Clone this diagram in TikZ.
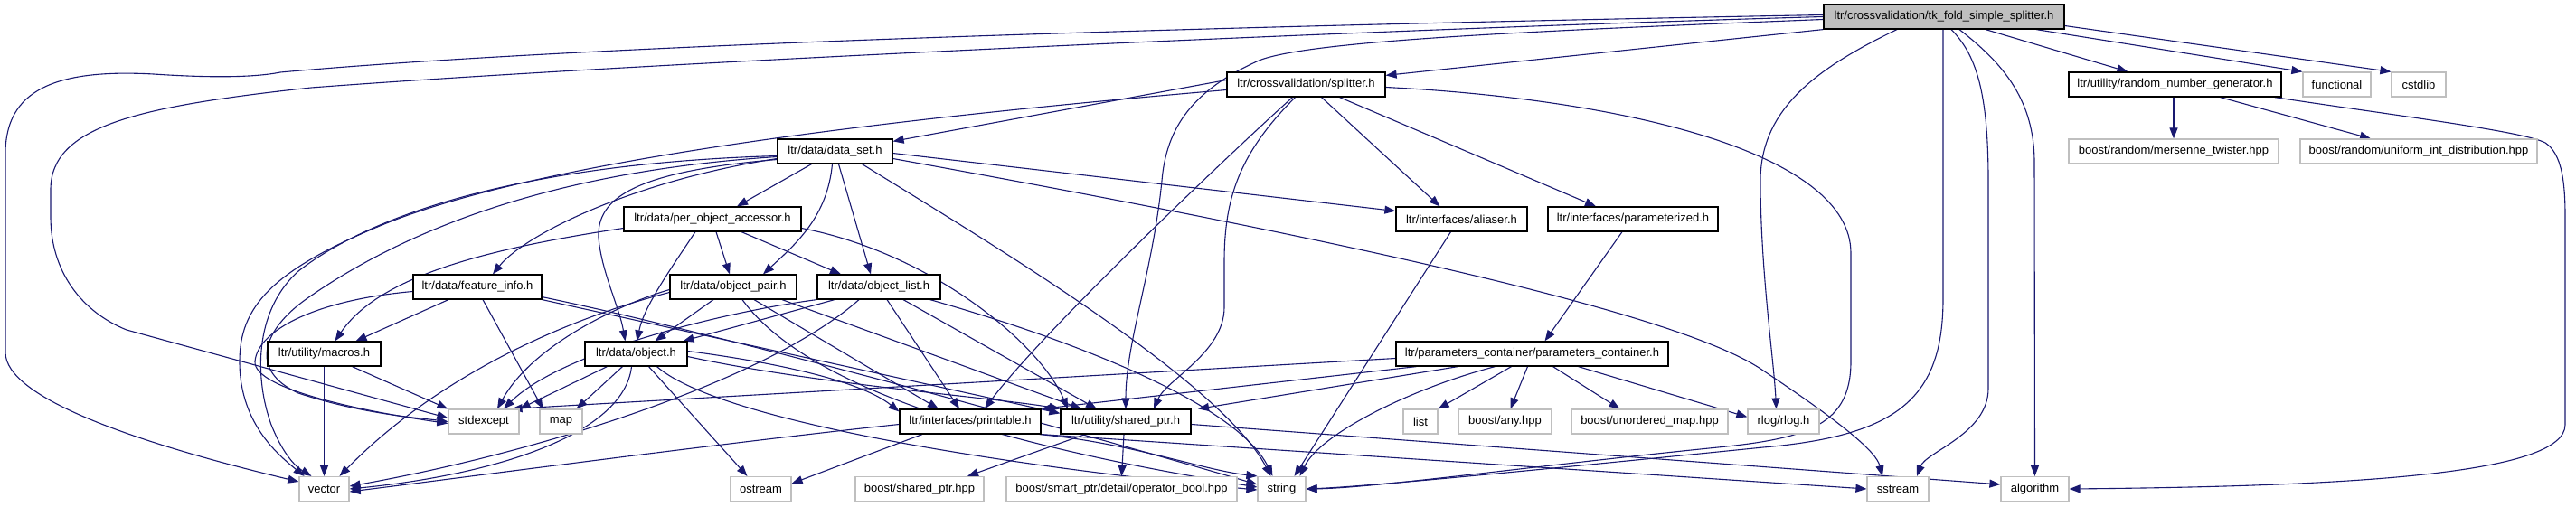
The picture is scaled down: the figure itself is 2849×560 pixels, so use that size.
\documentclass[tikz,border=0pt]{standalone}
\usepackage{fontspec}
\setmainfont{Liberation Sans}
\usetikzlibrary{arrows.meta}
\pgfdeclarelayer{background}
\pgfsetlayers{background,main}
\definecolor{edgeblue}{HTML}{191970}
\definecolor{extgray}{HTML}{BFBFBF}
\definecolor{rootgray}{HTML}{BFBFBF}

\begin{document}
\begin{tikzpicture}[x=1pt,y=-1pt,
    every node/.style={font=\fontsize{13}{15}\selectfont,inner sep=0pt,minimum height=27pt},
    hdr/.style={draw=black,line width=1.2pt,fill=white},
    ext/.style={draw=extgray,line width=1.2pt,fill=white},
    mainbox/.style={draw=black,line width=1.2pt,fill=rootgray},
    inc/.style={-{Triangle[length=12pt,width=9pt]},draw=edgeblue,line width=1.1pt}
]
\useasboundingbox (0,0) rectangle (2849,560);
\node[mainbox,minimum width=266pt] (root) at (2150,18.5) {ltr/crossvalidation/tk\_fold\_simple\_splitter.h};
\node[hdr,minimum width=235pt] (rng) at (2405.5,93.5) {ltr/utility/random\_number\_generator.h};
\node[ext,minimum width=75pt] (functional) at (2584.5,93.5) {functional};
\node[ext,minimum width=60pt] (cstdlib) at (2675,93.5) {cstdlib};
\node[ext,minimum width=232pt] (mersenne) at (2404,167.5) {boost/random/mersenne\_twister.hpp};
\node[ext,minimum width=262pt] (uniformint) at (2675,167.5) {boost/random/uniform\_int\_distribution.hpp};
\node[hdr,minimum width=175pt] (splitter) at (1444.5,93.5) {ltr/crossvalidation/splitter.h};
\node[hdr,minimum width=127pt] (dataset) at (923.5,167.5) {ltr/data/data\_set.h};
\node[hdr,minimum width=145pt] (aliaser) at (1616.5,242.5) {ltr/interfaces/aliaser.h};
\node[hdr,minimum width=188pt] (parameterized) at (1806,242.5) {ltr/interfaces/parameterized.h};
\node[hdr,minimum width=196pt] (accessor) at (788,242.5) {ltr/data/per\_object\_accessor.h};
\node[hdr,minimum width=142pt] (featureinfo) at (528,317.5) {ltr/data/feature\_info.h};
\node[hdr,minimum width=140pt] (objpair) at (811,317.5) {ltr/data/object\_pair.h};
\node[hdr,minimum width=136pt] (objlist) at (972,317.5) {ltr/data/object\_list.h};
\node[hdr,minimum width=125pt] (macros) at (358.5,391.5) {ltr/utility/macros.h};
\node[hdr,minimum width=113pt] (object) at (703.5,391.5) {ltr/data/object.h};
\node[hdr,minimum width=301pt] (paramscont) at (1694.5,391.5) {ltr/parameters\_container/parameters\_container.h};
\node[ext,minimum width=78pt] (stdexcept) at (535,466.5) {stdexcept};
\node[ext,minimum width=47pt] (map) at (620.5,466.5) {map};
\node[hdr,minimum width=156pt] (printable) at (1073,466.5) {ltr/interfaces/printable.h};
\node[hdr,minimum width=144pt] (sharedptr) at (1245,466.5) {ltr/utility/shared\_ptr.h};
\node[ext,minimum width=38pt] (list) at (1571,466.5) {list};
\node[ext,minimum width=103pt] (anyhpp) at (1664.5,466.5) {boost/any.hpp};
\node[ext,minimum width=173pt] (umap) at (1824.5,466.5) {boost/unordered\_map.hpp};
\node[ext,minimum width=79pt] (rlog) at (1972.5,466.5) {rlog/rlog.h};
\node[ext,minimum width=55pt] (vector) at (358.5,541) {vector};
\node[ext,minimum width=67pt] (ostream) at (841.5,541) {ostream};
\node[ext,minimum width=142pt] (boostsp) at (1017,541) {boost/shared\_ptr.hpp};
\node[ext,minimum width=255pt] (opbool) at (1240.5,541) {boost/smart\_ptr/detail/operator\_bool.hpp};
\node[ext,minimum width=53pt] (string) at (1417.5,541) {string};
\node[ext,minimum width=68pt] (sstream) at (2099,541) {sstream};
\node[ext,minimum width=75pt] (algorithm) at (2250.5,541) {algorithm};

\begin{pgfonlayer}{background}
\draw[inc] ([yshift=2pt]root.west) .. controls (1500,26) and (700,45) .. (310,80) .. controls (280,86) and (230,86) .. (170,82) .. controls (60,76) and (6,100) .. (6,170) -- (6,390) .. controls (6,440) and (150,490) .. ([yshift=8pt]vector.west);
\draw[inc] (root.west) .. controls (1500,33) and (700,70) .. (344,97) .. controls (150,118) and (56,140) .. (56,210) -- (56,240) .. controls (56,300) and (90,345) .. (140,365) -- ([yshift=4pt]stdexcept.west);
\draw[inc] ([yshift=-3pt]root.west) .. controls (1700,34) and (1440,45) .. (1390,68) .. controls (1320,100) and (1290,140) .. (1285,200) .. controls (1275,300) and (1245,380) .. (sharedptr.north);
\draw[inc] (root.south west) -- ([yshift=-4pt]splitter.north east);
\draw[inc] ([xshift=-52pt]root.south) .. controls (2010,75) and (1947,120) .. (1947,200) .. controls (1947,300) and (1962,400) .. ([xshift=-8pt]rlog.north);
\draw[inc] ([xshift=-1pt]root.south) -- (2149,330) .. controls (2149,440) and (2100,482) .. (1950,495) .. controls (1750,515) and (1520,538) .. (string.east);
\draw[inc] ([xshift=8pt]root.south) .. controls (2185,60) and (2199,100) .. (2199,200) -- (2199,430) .. controls (2199,480) and (2130,500) .. ([xshift=21pt]sstream.north);
\draw[inc] ([xshift=17pt]root.south) .. controls (2215,70) and (2250,110) .. (2250,180) -- (algorithm.north);
\draw[inc] ([xshift=46pt]root.south) -- ([xshift=-52pt]rng.north);
\draw[inc] ([xshift=102pt]root.south) -- (functional.north west);
\draw[inc] ([yshift=-10pt]root.east) -- (cstdlib.north west);

\draw[inc] ([xshift=-1.5pt]rng.south) -- (mersenne.north);
\draw[inc] ([xshift=50pt]rng.south) -- ([xshift=-53pt]uniformint.north);
\draw[inc] ([xshift=-8pt]rng.south east) .. controls (2650,128) and (2790,145) .. (2815,158) .. controls (2833,170) and (2837,200) .. (2837,240) -- (2837,470) .. controls (2837,525) and (2600,538) .. (algorithm.east);

\draw[inc] ([yshift=5pt]splitter.west) -- ([yshift=-3pt]dataset.north east);
\draw[inc] ([yshift=-6pt]splitter.west) .. controls (1000,130) and (600,175) .. (420,250) .. controls (300,300) and (265,340) .. (265,400) .. controls (265,470) and (310,505) .. ([xshift=-22pt]vector.north);
\draw[inc] ([xshift=-15pt]splitter.south) .. controls (1360,170) and (1150,370) .. ([xshift=16pt]printable.north);
\draw[inc] ([xshift=-12pt]splitter.south) .. controls (1370,170) and (1354,220) .. (1354,290) -- (1354,340) .. controls (1354,390) and (1290,420) .. ([xshift=31pt]sharedptr.north);
\draw[inc] ([xshift=17pt]splitter.south) -- ([xshift=-24pt]aliaser.north);
\draw[inc] ([xshift=37pt]splitter.south) -- ([xshift=-41pt]parameterized.north);
\draw[inc] ([yshift=-3pt]splitter.east) .. controls (1800,110) and (2047,170) .. (2047,280) -- (2047,400) .. controls (2047,470) and (2000,485) .. (1900,495) .. controls (1700,515) and (1520,540) .. (string.east);

\draw[inc] ([xshift=-26pt]dataset.south) -- ([xshift=27pt]accessor.north);
\draw[inc] ([xshift=-3pt]dataset.south) .. controls (915,240) and (880,270) .. ([xshift=33pt]objpair.north);
\draw[inc] ([xshift=4pt]dataset.south) -- ([xshift=-9pt]objlist.north);
\draw[inc] ([yshift=-2pt]dataset.east) -- ([yshift=9pt]aliaser.west);
\draw[inc] ([yshift=-8pt]dataset.east) .. controls (1400,250) and (1850,340) .. (1950,410) .. controls (2040,470) and (2075,500) .. ([xshift=-17pt]sstream.north);
\draw[inc] ([xshift=30pt]dataset.south) .. controls (1080,260) and (1350,420) .. ([xshift=-12pt]string.north);
\draw[inc] ([yshift=-8pt]dataset.west) .. controls (700,200) and (580,260) .. ([xshift=17pt]featureinfo.north);
\draw[inc] ([yshift=-9pt]dataset.west) .. controls (700,190) and (660,220) .. (662,263) .. controls (665,300) and (685,340) .. ([xshift=-12pt]object.north);
\draw[inc] ([yshift=-5pt]dataset.west) .. controls (600,180) and (420,230) .. (330,300) .. controls (280,345) and (282,420) .. (300,470) .. controls (312,500) and (325,515) .. ([xshift=-14pt]vector.north);
\draw[inc] ([yshift=-6pt]dataset.west) .. controls (600,190) and (440,260) .. (340,330) .. controls (290,365) and (275,410) .. (330,435) .. controls (400,458) and (460,462) .. (stdexcept.west);

\draw[inc] ([yshift=-10pt]accessor.west) .. controls (540,275) and (420,305) .. ([xshift=12pt]macros.north);
\draw[inc] ([xshift=-19pt]accessor.south) .. controls (740,300) and (712,340) .. ([xshift=1pt]object.north);
\draw[inc] ([xshift=4pt]accessor.south) -- ([xshift=-4pt]objpair.north);
\draw[inc] ([xshift=32pt]accessor.south) -- ([xshift=-42pt]objlist.north);
\draw[inc] ([yshift=-10pt]accessor.east) .. controls (1030,280) and (1150,380) .. ([xshift=-64pt]sharedptr.north);

\draw[inc] ([xshift=-32pt]featureinfo.south) -- ([xshift=35pt]macros.north);
\draw[inc] ([xshift=6pt]featureinfo.south) -- ([xshift=-20pt]map.north);
\draw[inc] ([yshift=-5pt]featureinfo.west) .. controls (350,332) and (285,365) .. (282,400) .. controls (280,430) and (400,455) .. ([yshift=-2pt]stdexcept.west);
\draw[inc] (featureinfo.south east) -- ([yshift=-5pt]sharedptr.north west);
\draw[inc] ([yshift=3pt]featureinfo.south east) .. controls (800,370) and (1200,480) .. ([yshift=5pt]string.west);

\draw[inc] ([xshift=-22pt]objpair.south) -- ([xshift=21pt]object.north);
\draw[inc] ([yshift=-3pt]objpair.west) .. controls (690,335) and (590,380) .. ([xshift=15pt]stdexcept.north);
\draw[inc] ([yshift=-6pt]objpair.west) .. controls (600,360) and (470,430) .. ([xshift=17pt]vector.north);
\draw[inc] ([xshift=10pt]objpair.south) .. controls (900,440) and (1150,500) .. ([yshift=2pt]string.west);
\draw[inc] ([xshift=23pt]objpair.south) -- ([xshift=-35pt]printable.north);
\draw[inc] ([xshift=54pt]objpair.south) -- ([xshift=-49pt]sharedptr.north);

\draw[inc] ([xshift=-49pt]objlist.south) -- ([xshift=52pt]object.north);
\draw[inc] (objlist.south west) .. controls (800,345) and (620,390) .. ([xshift=22pt]stdexcept.north);
\draw[inc] ([xshift=-22pt]objlist.south) .. controls (850,420) and (600,500) .. ([yshift=3pt]vector.east);
\draw[inc] ([xshift=9pt]objlist.south) -- ([xshift=-12pt]printable.north);
\draw[inc] ([xshift=27pt]objlist.south) -- ([xshift=-32pt]sharedptr.north);
\draw[inc] ([xshift=-12pt]objlist.south east) .. controls (1200,380) and (1370,450) .. ([xshift=-10pt]string.north);

\draw[inc] ([xshift=-32pt]object.south) -- (stdexcept.north east);
\draw[inc] ([xshift=-15pt]object.south) -- ([xshift=17pt]map.north);
\draw[inc] ([xshift=-5pt]object.south) .. controls (690,480) and (550,525) .. (vector.east);
\draw[inc] ([xshift=14pt]object.south) -- ([xshift=-15pt]ostream.north);
\draw[inc] ([xshift=23pt]object.south) .. controls (800,470) and (1150,520) .. ([yshift=-1pt]string.west);
\draw[inc] ([yshift=3pt]object.east) .. controls (850,400) and (950,420) .. ([yshift=-3pt]printable.north west);
\draw[inc] ([yshift=-3pt]object.east) .. controls (900,425) and (1100,440) .. (sharedptr.north west);

\draw[inc] ([yshift=-3pt]printable.west) .. controls (800,490) and (500,530) .. ([yshift=-3pt]vector.east);
\draw[inc] ([xshift=-53pt]printable.south) -- ([yshift=6pt]ostream.east);
\draw[inc] ([xshift=-2pt]printable.south east) .. controls (1250,490) and (1330,520) .. (string.north west);
\draw[inc] (printable.south east) -- (sstream.west);

\draw[inc] ([xshift=-45pt]sharedptr.south) -- ([xshift=53pt]boostsp.north);
\draw[inc] ([xshift=-2pt]sharedptr.south) -- (opbool.north);
\draw[inc] ([yshift=-3pt]sharedptr.east) -- ([yshift=5pt]algorithm.west);

\draw[inc] ([xshift=-12pt]aliaser.south) -- ([xshift=14pt]string.north);
\draw[inc] ([xshift=-12pt]parameterized.south) -- ([xshift=14pt]paramscont.north);

\draw[inc] ([yshift=-5pt]paramscont.west) -- ([xshift=-9pt]stdexcept.north east);
\draw[inc] ([xshift=-128pt]paramscont.south) -- (printable.north east);
\draw[inc] ([xshift=-82pt]paramscont.south) -- ([xshift=80pt]sharedptr.north);
\draw[inc] ([xshift=-41pt]paramscont.south) .. controls (1560,430) and (1460,480) .. ([xshift=20pt]string.north);
\draw[inc] ([xshift=-23pt]paramscont.south) -- (list.north east);
\draw[inc] ([xshift=-5pt]paramscont.south) -- ([xshift=6pt]anyhpp.north);
\draw[inc] ([xshift=23pt]paramscont.south) -- ([xshift=-33pt]umap.north);
\draw[inc] ([xshift=51pt]paramscont.south) -- ([yshift=-9pt]rlog.north west);

\draw[inc] (macros.south) -- (vector.north);
\draw[inc] ([xshift=31pt]macros.south) -- (stdexcept.north west);
\end{pgfonlayer}
\end{tikzpicture}
\end{document}
